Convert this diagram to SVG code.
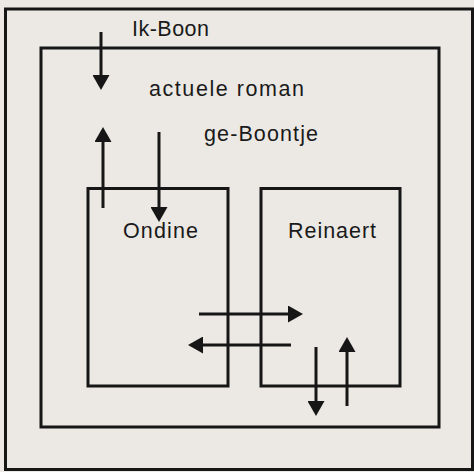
<svg xmlns="http://www.w3.org/2000/svg" width="474" height="472" viewBox="0 0 474 472">
<style>
.box{fill:none;stroke:#161616;stroke-width:3;stroke-linejoin:miter}
.lbl{font-family:"Liberation Sans",Arial,sans-serif;font-size:21.5px;fill:#1a1a1a}
.arr{stroke:#161616;stroke-width:3;fill:none;marker-end:url(#ah)}
</style>
<defs>
<marker id="ah" viewBox="0 0 15 17" markerWidth="15" markerHeight="17" markerUnits="userSpaceOnUse" refX="5" refY="8.5" orient="auto">
<path d="M0,0 L15,8.5 L0,17 z" fill="#161616"/>
</marker>
</defs>
<rect width="474" height="472" fill="#ece9e4"/>
<g id="ik-boon">
<rect class="box" x="5.5" y="9" width="467" height="460.5" stroke-width="2.5"/>
<text class="lbl" x="132" y="36" textLength="77" lengthAdjust="spacing">Ik-Boon</text>
</g>
<g id="actuele-roman">
<rect class="box" x="41" y="48" width="398" height="379"/>
<text class="lbl" x="149" y="96" textLength="155" lengthAdjust="spacing">actuele roman</text>
<text class="lbl" x="204" y="140.5" textLength="114" lengthAdjust="spacing">ge-Boontje</text>
</g>
<g id="ondine">
<rect class="box" x="88" y="188.5" width="140" height="197.5"/>
<text class="lbl" x="123" y="238" textLength="75" lengthAdjust="spacing">Ondine</text>
</g>
<g id="reinaert">
<rect class="box" x="261" y="188.5" width="139" height="197.5"/>
<text class="lbl" x="288" y="238" textLength="88" lengthAdjust="spacing">Reinaert</text>
</g>
<g id="connectors">
<line class="arr" x1="101" y1="32" x2="101" y2="80"/>
<line class="arr" x1="103" y1="208" x2="103" y2="137"/>
<line class="arr" x1="159" y1="132" x2="159" y2="212"/>
<line class="arr" x1="199" y1="314" x2="293" y2="314"/>
<line class="arr" x1="291" y1="345" x2="198" y2="345"/>
<line class="arr" x1="316" y1="347" x2="316" y2="406"/>
<line class="arr" x1="347" y1="406" x2="347" y2="347"/>
</g>
</svg>
